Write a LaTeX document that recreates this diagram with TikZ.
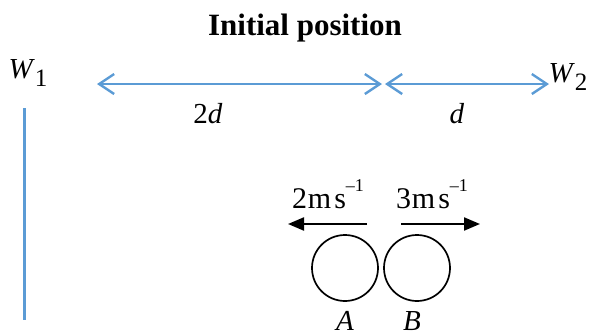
\documentclass[tikz,border=0pt]{standalone}
\usepackage{fontspec}
\setmainfont{Liberation Serif}
\usepackage{xcolor}
\usetikzlibrary{arrows.meta}
\definecolor{wallblue}{RGB}{91,155,213}
\newcommand{\lbl}{\fontsize{29}{31}\selectfont}
\newcommand{\vlbl}{\fontsize{30}{32}\selectfont}
\newcommand{\sbs}[1]{\raisebox{-8pt}{\fontsize{25}{26}\selectfont #1}}
\newcommand{\sps}[1]{\raisebox{17pt}{\fontsize{18}{18}\selectfont #1}}

\begin{document}
\begin{tikzpicture}[x=1pt,y=-1pt]
    \useasboundingbox (0,0) rectangle (598,335);
    \tikzset{dist/.style={wallblue,line width=2.4pt,{Straight Barb[length=15pt,width=20pt]}-{Straight Barb[length=15pt,width=20pt]}},
             speed/.style={black,line width=2.2pt,-{Triangle[length=16pt,width=13pt]}},
             ball/.style={circle,draw,line width=1.7pt,minimum size=66pt,inner sep=0pt}}
    \node[anchor=base] (title) at (305,35) {\fontsize{31}{33}\selectfont\bfseries Initial position};
    \node[anchor=base] (w1) at (28,78) {\lbl\textit{W}\sbs{1}};
    \node[anchor=base] (w2) at (568,82) {\lbl\textit{W}\sbs{2}};
    \draw[wallblue,line width=3pt] (24,108) -- (24,320);
    % distances between the walls
    \coordinate (p1) at (97,84);
    \coordinate (p2) at (382,84);
    \coordinate (p3) at (385,84);
    \coordinate (p4) at (549,84);
    \draw[dist] (p1) -- (p2);
    \draw[dist] (p3) -- (p4);
    \node[anchor=base] (twod) at (208,123) {\lbl 2\textit{d}};
    \node[anchor=base] (oned) at (457,123) {\lbl\textit{d}};
    % the two balls
    \node[ball] (A) at (345,268) {};
    \node[ball] (B) at (417,268) {};
    \node[anchor=base,inner sep=0pt] (labA) at (345,330) {\lbl\textit{A}};
    \node[anchor=base,inner sep=0pt] (labB) at (412,330) {\lbl\textit{B}};
    \coordinate (va1) at (367,224);
    \coordinate (va2) at (288,224);
    \coordinate (vb1) at (401,224);
    \coordinate (vb2) at (480,224);
    \draw[speed] (va1) -- (va2);
    \draw[speed] (vb1) -- (vb2);
    \node[anchor=base] (spA) at (328,208) {\vlbl 2\hspace{0.03em}m\hspace{0.1em}s\sps{–1}};
    \node[anchor=base] (spB) at (432,208) {\vlbl 3\hspace{0.03em}m\hspace{0.1em}s\sps{–1}};
\end{tikzpicture}
\end{document}
